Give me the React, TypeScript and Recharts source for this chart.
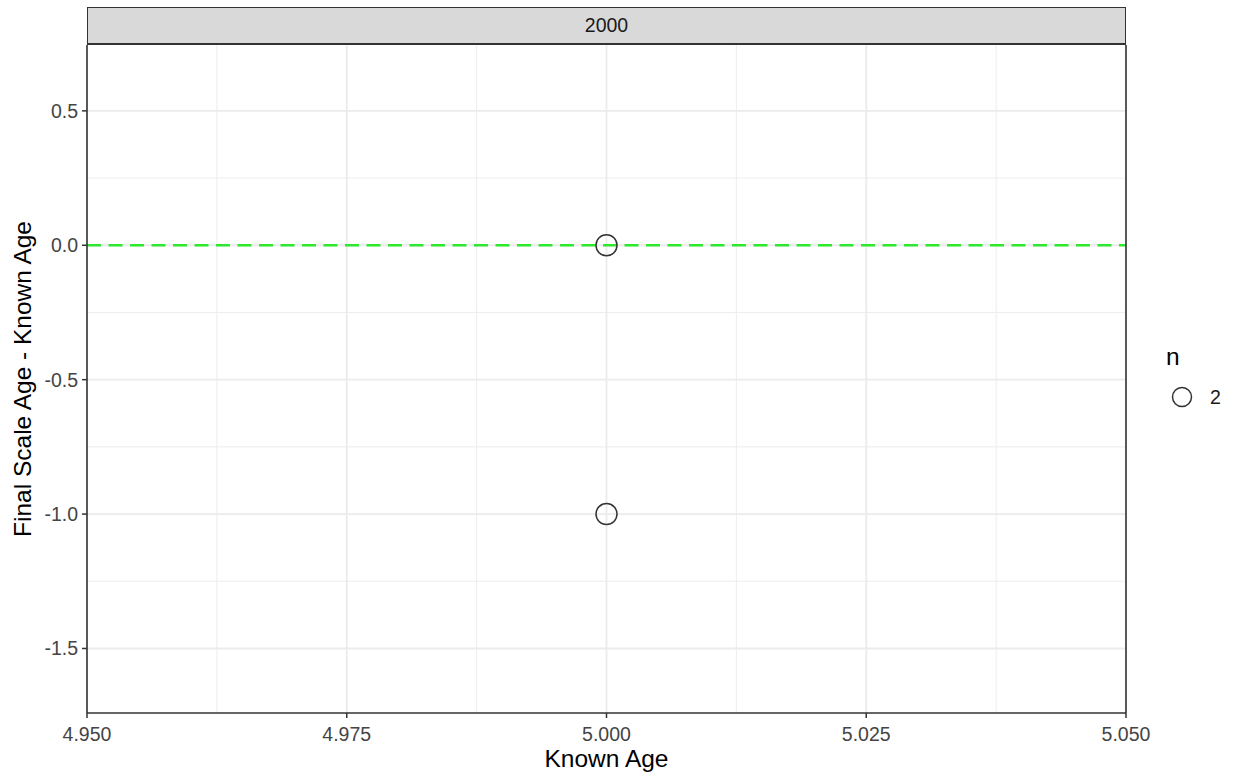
import React from 'react';
import {
  ScatterChart,
  Scatter,
  XAxis,
  YAxis,
  ReferenceLine,
} from 'recharts';

// facet / data
const facetYear = '2000';
const knownAge = [5, 5];
const ageDiff = [0, -1];
const nCount = [2, 2];
const sizeLevels = [2];

// axis ticks
const xTicks = [4.95, 4.975, 5.0, 5.025, 5.05];
const xMinor = [4.9625, 4.9875, 5.0125, 5.0375];
const yTicks = [0.5, 0, -0.5, -1.0, -1.5];
const yMinor = [0.25, -0.25, -0.75, -1.25];
const xDomain: [number, number] = [4.95, 5.05];
const yDomain: [number, number] = [-1.74, 0.745];

const points = knownAge.map((x, i) => ({ x, y: ageDiff[i], n: nCount[i] }));

const FONT = '"Liberation Sans", Arial, sans-serif';
const GRID = '#ebebeb';
const INK = '#333333';

const OpenCircle = (props: any) => {
  const { cx, cy } = props;
  if (cx == null || cy == null) return null;
  return <circle cx={cx} cy={cy} r={10.5} fill="none" stroke={INK} strokeWidth={1.5} />;
};

export default function App() {
  return (
    <div style={{ position: 'fixed', left: 0, top: 0, width: 1238, height: 778, background: '#fff', fontFamily: FONT }}>
      <ScatterChart width={1238} height={778} margin={{ top: 45, right: 112, left: 0, bottom: 0 }}>
        {xMinor.map(v => (
          <ReferenceLine key={'xm' + v} x={v} stroke={GRID} strokeWidth={0.9} />
        ))}
        {yMinor.map(v => (
          <ReferenceLine key={'ym' + v} y={v} stroke={GRID} strokeWidth={0.9} />
        ))}
        {xTicks.map(v => (
          <ReferenceLine key={'xM' + v} x={v} stroke={GRID} strokeWidth={1.8} />
        ))}
        {yTicks.map(v => (
          <ReferenceLine key={'yM' + v} y={v} stroke={GRID} strokeWidth={1.8} />
        ))}
        <XAxis
          type="number"
          dataKey="x"
          domain={xDomain}
          ticks={xTicks}
          allowDataOverflow
          height={65}
          tickSize={5}
          tickMargin={9}
          axisLine={false}
          tickLine={{ stroke: INK, strokeWidth: 1.5 }}
          tick={{ fill: '#444', fontSize: 19.5, fontFamily: FONT }}
          tickFormatter={(v: number) => v.toFixed(3)}
          label={{
            content: ({ viewBox }: any) => (
              <text
                x={viewBox.x + viewBox.width / 2}
                y={viewBox.y + 54}
                textAnchor="middle"
                fontSize={24.5}
                fill="#000"
                fontFamily={FONT}
              >
                Known Age
              </text>
            ),
          }}
        />
        <YAxis
          type="number"
          dataKey="y"
          domain={yDomain}
          ticks={yTicks}
          allowDataOverflow
          width={87}
          tickSize={5}
          tickMargin={4}
          axisLine={false}
          tickLine={{ stroke: INK, strokeWidth: 1.5 }}
          tick={{ fill: '#444', fontSize: 19.5, fontFamily: FONT }}
          tickFormatter={(v: number) => v.toFixed(1)}
          label={{
            content: ({ viewBox }: any) => {
              const x = viewBox.x + 31;
              const y = viewBox.y + viewBox.height / 2;
              return (
                <text
                  x={x}
                  y={y}
                  transform={`rotate(-90 ${x} ${y})`}
                  textAnchor="middle"
                  fontSize={24.5}
                  fill="#000"
                  fontFamily={FONT}
                >
                  Final Scale Age - Known Age
                </text>
              );
            },
          }}
        />
        <ReferenceLine y={0} stroke="#2ee82e" strokeWidth={2.6} strokeDasharray="14 7.5" />
        <Scatter data={points} shape={<OpenCircle />} isAnimationActive={false} />
        {/* panel border */}
        {xDomain.map(v => (
          <ReferenceLine key={'bx' + v} x={v} stroke={INK} strokeWidth={1.6} ifOverflow="visible" />
        ))}
        <ReferenceLine y={yDomain[0]} stroke={INK} strokeWidth={1.6} ifOverflow="visible" />
      </ScatterChart>

      {/* facet strip */}
      <div
        style={{
          position: 'absolute',
          left: 87,
          top: 7,
          width: 1039,
          height: 38,
          boxSizing: 'border-box',
          background: '#d9d9d9',
          border: `1.5px solid ${INK}`,
          borderBottomWidth: 2,
          display: 'flex',
          alignItems: 'center',
          justifyContent: 'center',
          fontSize: 19.5,
          color: '#1a1a1a',
        }}
      >
        {facetYear}
      </div>

      {/* size legend */}
      <svg style={{ position: 'absolute', left: 1150, top: 335 }} width={88} height={90}>
        <text x={16} y={30} fontSize={24.5} fill="#000" fontFamily={FONT}>
          n
        </text>
        {sizeLevels.map((lvl, i) => (
          <g key={lvl}>
            <circle cx={32} cy={62 + i * 30} r={9.5} fill="none" stroke={INK} strokeWidth={1.5} />
            <text x={60} y={69 + i * 30} fontSize={19.5} fill="#1a1a1a" fontFamily={FONT}>
              {lvl}
            </text>
          </g>
        ))}
      </svg>
    </div>
  );
}
